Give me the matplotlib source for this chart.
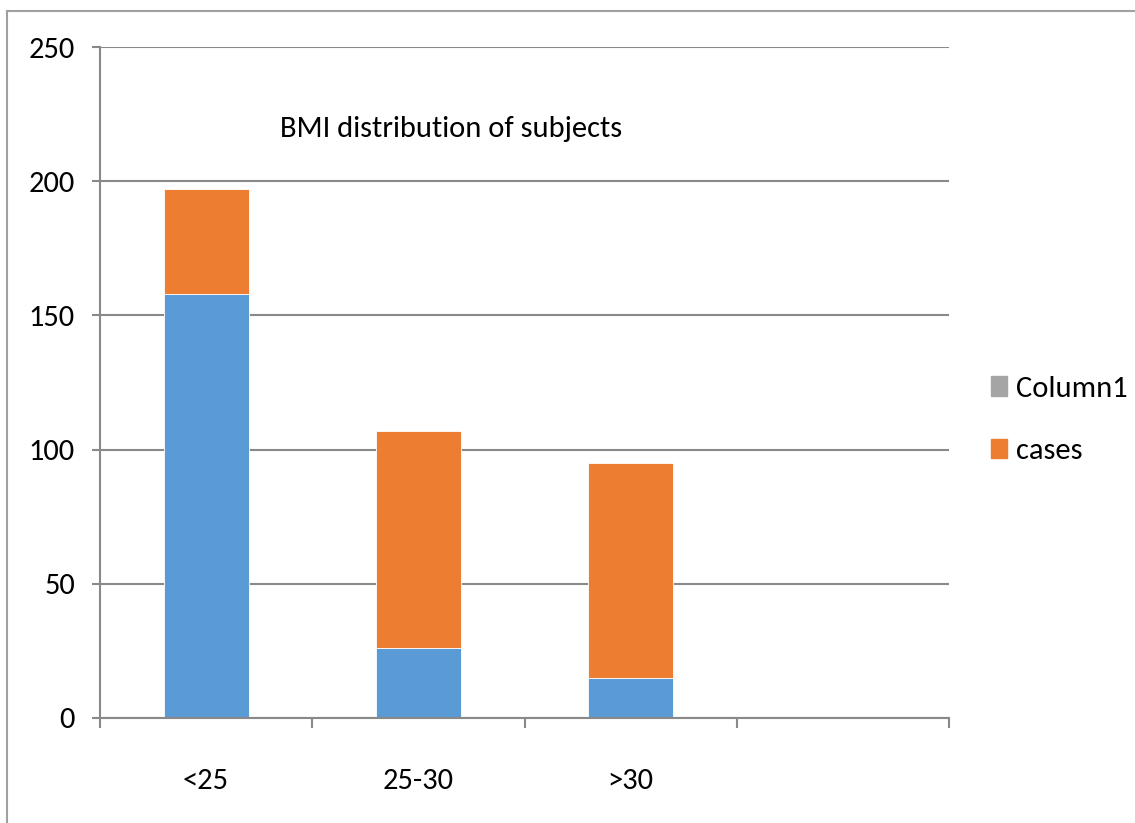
import matplotlib
matplotlib.use("Agg")
import matplotlib.pyplot as plt
from matplotlib.patches import Patch
from matplotlib.lines import Line2D

plt.rcParams["font.family"] = ["Carlito", "DejaVu Sans"]

# BMI groups (fourth slot is left empty)
categories = ["<25", "25-30", ">30", ""]
below = [158, 26, 15, 0]
cases = [39, 81, 80, 0]

blue = "#5b9bd5"
orange = "#ed7d31"
gray = "#a5a5a5"
axis_gray = "#898989"
fs = 22

W, H = 1135, 823
fig = plt.figure(figsize=(W / 100, H / 100), dpi=100)
fig.patch.set_facecolor("white")

# outer chart border (left and top edges visible)
fig.add_artist(Line2D([7 / W, 7 / W], [0, 1 - 11 / H], transform=fig.transFigure,
                      color="#a0a0a0", lw=1.5))
fig.add_artist(Line2D([7 / W, 1], [1 - 11 / H, 1 - 11 / H], transform=fig.transFigure,
                      color="#a0a0a0", lw=1.5))

ax = fig.add_axes([100 / W, 1 - 718 / H, (949 - 100) / W, (718 - 47) / H])

x = range(len(categories))
ax.bar(x, below, width=0.4, color=blue, edgecolor="white", linewidth=0.6, zorder=3)
ax.bar(x, cases, width=0.4, bottom=below, color=orange, edgecolor="white",
       linewidth=0.6, zorder=3)

ax.set_xlim(-0.5, len(categories) - 0.5)
ax.set_ylim(0, 250)
ax.set_yticks(range(0, 251, 50))
ax.grid(axis="y", color=axis_gray, linewidth=1.5, zorder=0)

# tick marks at category boundaries, labels at centres
ax.set_xticks([i - 0.5 for i in range(len(categories) + 1)])
ax.set_xticklabels([])
ax.set_xticks(list(x), minor=True)
ax.set_xticklabels(categories, minor=True, fontsize=fs)
ax.tick_params(axis="x", which="major", length=7.5, width=1.5, color=axis_gray)
ax.tick_params(axis="x", which="minor", length=0, pad=36)
ax.tick_params(axis="y", length=6, width=1.5, color=axis_gray, labelsize=fs, pad=12)

for s in ["top", "right"]:
    ax.spines[s].set_visible(False)
for s in ["left", "bottom"]:
    ax.spines[s].set_color(axis_gray)
    ax.spines[s].set_linewidth(1.5)
ax.spines["bottom"].set_zorder(4)

ax.text(0.212, 216.5, "BMI distribution of subjects", transform=ax.get_yaxis_transform(),
        fontsize=fs, ha="left", va="baseline")

handles = [Patch(color=gray), Patch(color=orange)]
fig.legend(handles, ["Column1", "cases"], loc="center left",
           bbox_to_anchor=(991 / W, 1 - 420 / H), frameon=False, fontsize=fs,
           borderpad=0, borderaxespad=0,
           handlelength=0.52, handleheight=0.62, handletextpad=0.3, labelspacing=1.2)

fig.savefig("out.png", dpi=100)
